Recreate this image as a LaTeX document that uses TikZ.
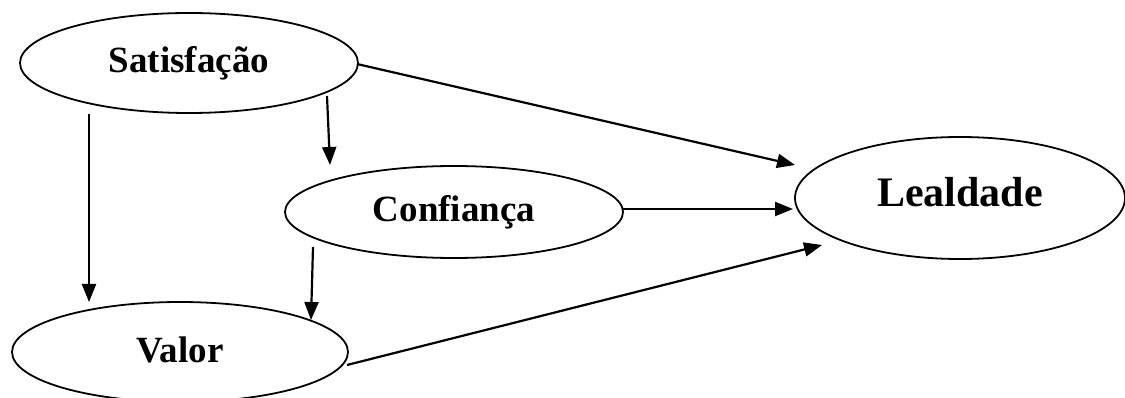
\documentclass[tikz,border=0pt]{standalone}
\usepackage{fontspec}
\setmainfont{Liberation Serif}
\usetikzlibrary{shapes.geometric,arrows.meta,calc}
\begin{document}
\begin{tikzpicture}[x=1pt,y=-1pt,
  oval/.style={draw=black,ellipse,line width=1.8pt,inner sep=0pt,font=\bfseries\fontsize{37}{40}\selectfont},
  arr/.style={line width=2.2pt,-{Triangle[length=18pt,width=14pt]}}]
\useasboundingbox (0,0) rectangle (1125,398);
\node[oval,minimum width=338pt,minimum height=100pt] (sat) at (189,63) {\raisebox{3pt}{Satisfação}};
\node[oval,minimum width=338pt,minimum height=92pt] (conf) at (454,212) {Confiança};
\node[oval,minimum width=336pt,minimum height=100pt] (val) at (180,352) {\raisebox{4pt}{Valor}};
\node[oval,minimum width=330pt,minimum height=122pt,font=\bfseries\fontsize{42}{46}\selectfont] (leal) at (960,198) {\raisebox{13pt}{Lealdade}};
\draw[arr] ($(sat.center)+(168,1)$) -- ($(leal.center)+(-165,-33)$);
\draw[arr] ($(sat.center)+(138,33)$) -- ($(conf.center)+(-124,-47)$);
\draw[arr] ($(sat.center)+(-100,51)$) -- ($(val.center)+(-91,-50)$);
\draw[arr] ($(conf.center)+(168,-3)$) -- ($(leal.center)+(-167,11)$);
\draw[arr] ($(conf.center)+(-141,35)$) -- ($(val.center)+(131,-32)$);
\draw[arr] ($(val.center)+(167,13)$) -- ($(leal.center)+(-138,47)$);
\end{tikzpicture}
\end{document}
